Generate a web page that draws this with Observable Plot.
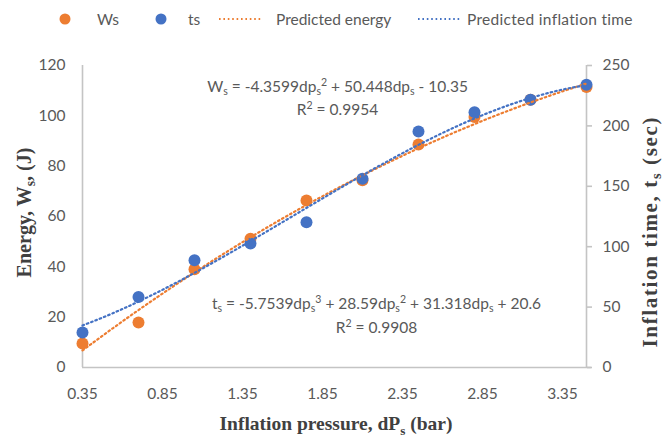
<!DOCTYPE html>
<html>
<head>
<meta charset="utf-8">
<script src="https://cdn.jsdelivr.net/npm/d3@7"></script>
<script src="https://cdn.jsdelivr.net/npm/@observablehq/plot@0.6"></script>
<style>
  body { margin: 0; background: #fff; font-family: Lato, "Open Sans", sans-serif; }
  #wrap { position: relative; width: 672px; height: 437px; }
  #legend { position: relative; width: 672px; height: 40px; color: #595959; font-size: 15.5px; }
  #legend .sw { position: absolute; top: 10px; }
  #legend .lb { position: absolute; top: 9px; line-height: 20px; white-space: nowrap; }
</style>
</head>
<body>
<div id="wrap">
  <div id="legend"></div>
  <div id="chart"></div>
</div>
<script>
// ---- data ----
const pressure = [0.35, 0.70, 1.05, 1.40, 1.75, 2.10, 2.45, 2.80, 3.15, 3.50];
const energy   = [9.5, 17.9, 39.0, 51.2, 66.4, 74.4, 88.6, 99.5, 106.4, 111.5];
const inflTime = [29, 58.4, 88.7, 102.6, 120.2, 156.3, 195.4, 211.4, 221.7, 234];
// trendline coefficients (c0 + c1 x + c2 x^2 + c3 x^3) as printed on the chart
const energyCoef = [-10.35, 50.448, -4.3599];
const timeCoef   = [20.6, 31.318, 28.59, -5.7539];
const xTicks     = [0.35, 0.85, 1.35, 1.85, 2.35, 2.85, 3.35];
const leftTicks  = [0, 20, 40, 60, 80, 100, 120];
const rightTicks = [0, 50, 100, 150, 200, 250];
const legendLabels = ["Ws", "ts", "Predicted energy", "Predicted inflation time"];
const eqEnergy = ["W_s = -4.3599dp_s^2 + 50.448dp_s - 10.35", "R^2 = 0.9954"];
const eqTime   = ["t_s = -5.7539dp_s^3 + 28.59dp_s^2 + 31.318dp_s + 20.6", "R^2 = 0.9908"];
const titles = { left: "Energy, W_s, (J)", right: "Inflation time, t_s (sec)", bottom: "Inflation pressure, dP_s (bar)" };

const ORANGE = "#ED7D31", BLUE = "#4472C4", GRAY_TXT = "#595959", AXIS = "#c4c4c4";
const DOTS = "1.6,3";

// ---- legend ----
const legend = d3.select("#legend");
const legendItems = [
  {type: "dot", color: ORANGE, sx: 59, lx: 97},
  {type: "dot", color: BLUE, sx: 155, lx: 188},
  {type: "line", color: ORANGE, sx: 218, lx: 276},
  {type: "line", color: BLUE, sx: 417, lx: 467}
];
legendItems.forEach((it, i) => {
  const sw = legend.append("svg").attr("class", "sw").style("left", it.sx + "px")
    .attr("width", it.type === "dot" ? 12 : 44).attr("height", 18);
  if (it.type === "dot") sw.append("circle").attr("cx", 6).attr("cy", 9).attr("r", 5.5).attr("fill", it.color);
  else sw.append("line").attr("x1", 1).attr("x2", 43).attr("y1", 9).attr("y2", 9)
    .attr("stroke", it.color).attr("stroke-width", 2).attr("stroke-dasharray", "1.6,2.8");
  legend.append("div").attr("class", "lb").style("left", it.lx + "px")
    .style("letter-spacing", i === 3 ? "0.3px" : null).text(legendLabels[i]);
});

// ---- chart ----
const k = 120 / 250; // right axis -> left axis
const pts = pressure.map((p, i) => ({p, w: energy[i], t: inflTime[i] * k}));
const poly = (c, x) => c.reduce((s, a, i) => s + a * Math.pow(x, i), 0);
const grid = d3.range(0, 201).map(i => pressure[0] + i * (pressure[pressure.length - 1] - pressure[0]) / 200);
const fitE = grid.map(x => ({x, y: poly(energyCoef, x)}));
const fitT = grid.map(x => ({x, y: poly(timeCoef, x) * k}));

const eqStyle = {fontFamily: "Lato", fontSize: 15.5, fill: GRAY_TXT, frameAnchor: "top"};
const titleStyle = {fontFamily: "Liberation Serif", fontWeight: "bold", fill: "#404040",
  textAnchor: "middle", lineAnchor: "middle"};

const chart = Plot.plot({
  width: 672, height: 397,
  marginTop: 25, marginBottom: 70, marginLeft: 82, marginRight: 86,
  style: {fontFamily: "Lato", fontSize: "15.5px", color: GRAY_TXT, background: "#fff"},
  x: {domain: [0.35, 3.5]},
  y: {domain: [0, 120]},
  marks: [
    Plot.ruleY([0], {x1: 0.35, x2: 3.53, stroke: AXIS, strokeWidth: 1.6}),
    Plot.ruleX([0.35], {stroke: AXIS, strokeWidth: 1.6}),
    Plot.ruleX([3.5], {stroke: AXIS, strokeWidth: 1.6}),
    Plot.axisX(xTicks, {tickSize: 0, tickPadding: 20, tickFormat: d => d.toFixed(2), fill: GRAY_TXT, label: null}),
    Plot.axisY(leftTicks, {anchor: "left", tickSize: 0, tickPadding: 17, fill: GRAY_TXT, label: null}),
    Plot.axisY(rightTicks.map(t => t * k), {anchor: "right", tickSize: 5, tickPadding: 11, stroke: AXIS, strokeWidth: 1.6,
      fill: GRAY_TXT, tickFormat: d => String(Math.round(d / k)), label: null}),
    Plot.dot(pts, {x: "p", y: "w", r: 6, fill: ORANGE}),
    Plot.dot(pts, {x: "p", y: "t", r: 6, fill: BLUE}),
    Plot.line(fitE, {x: "x", y: "y", stroke: ORANGE, strokeWidth: 2.2, strokeDasharray: DOTS}),
    Plot.line(fitT, {x: "x", y: "y", stroke: BLUE, strokeWidth: 2.2, strokeDasharray: DOTS}),
    Plot.text([eqEnergy[0]], {...eqStyle, dx: 3, dy: 15}),
    Plot.text([eqEnergy[1]], {...eqStyle, dx: 3, dy: 38}),
    Plot.text([eqTime[0]], {...eqStyle, dx: 42, dy: 232}),
    Plot.text([eqTime[1]], {...eqStyle, dx: 42, dy: 256}),
    Plot.text([titles.left], {...titleStyle, fontSize: 20, frameAnchor: "left", rotate: -90, dx: -58, dy: -4,
      className: "t-left"}),
    Plot.text([titles.right], {...titleStyle, fontSize: 21, frameAnchor: "right", rotate: -90, dx: 63.5, dy: 16,
      className: "t-right"}),
    Plot.text([titles.bottom], {...titleStyle, fontSize: 19.5, frameAnchor: "bottom", dx: 1.5, dy: 56.5,
      className: "t-bottom"})
  ]
});
document.getElementById("chart").appendChild(chart);

// turn "_x" / "^x" markup into real sub/superscript tspans
function richify(el) {
  const s = el.textContent;
  if (!/[_^]/.test(s) || el.querySelector("tspan")) return;
  const fs = parseFloat(getComputedStyle(el).fontSize) || 15;
  el.textContent = "";
  let cur = 0, buf = "";
  const add = (txt, off, small) => {
    const t = document.createElementNS("http://www.w3.org/2000/svg", "tspan");
    t.textContent = txt;
    if (off !== cur) { t.setAttribute("dy", (off - cur).toFixed(2)); cur = off; }
    if (small) t.setAttribute("font-size", (fs * 0.68).toFixed(2));
    el.appendChild(t);
  };
  for (let i = 0; i < s.length; i++) {
    const c = s[i];
    if ((c === "_" || c === "^") && i + 1 < s.length) {
      if (buf) { add(buf, 0, false); buf = ""; }
      add(s[i + 1], c === "_" ? fs * 0.22 : -fs * 0.38, true);
      i++;
    } else buf += c;
  }
  if (buf) add(buf, 0, false);
}
chart.querySelectorAll("text").forEach(richify);

// match the side title lengths of the reference
[["t-left", 130, "spacingAndGlyphs"], ["t-right", 230, "spacing"]]
  .forEach(([cls, len, adj]) => {
    chart.querySelectorAll(`g.${cls} text`).forEach(t => {
      t.setAttribute("textLength", len);
      t.setAttribute("lengthAdjust", adj);
    });
  });
</script>
</body>
</html>
